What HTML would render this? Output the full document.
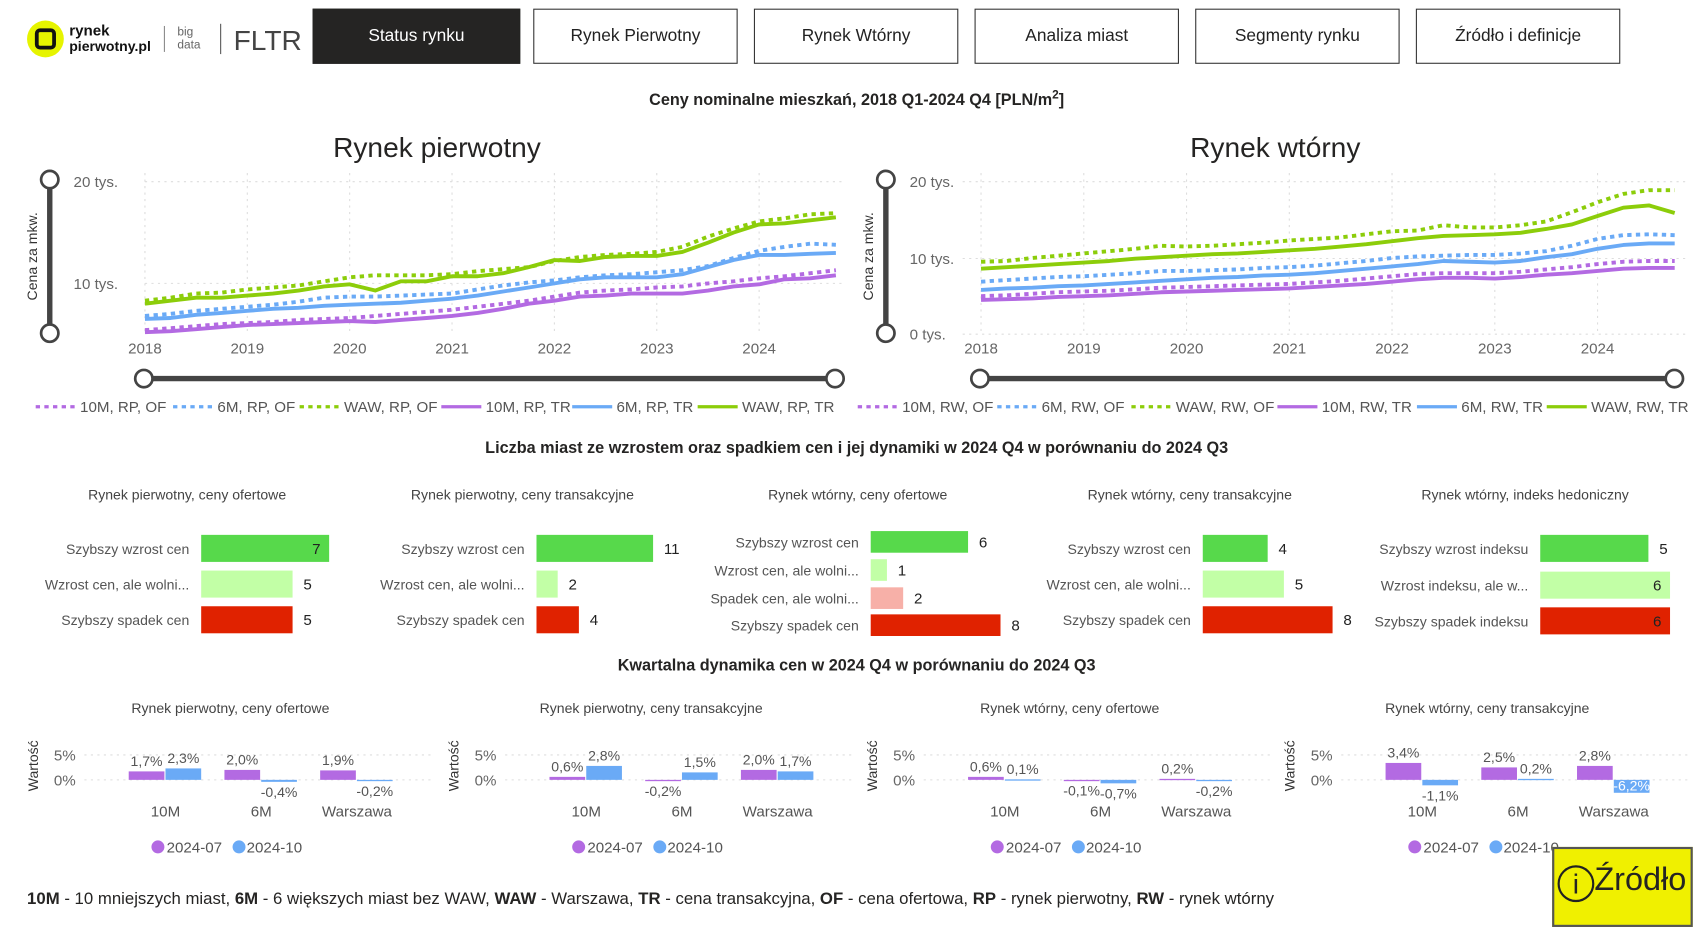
<!DOCTYPE html>
<html><head><meta charset="utf-8">
<style>
html,body{margin:0;padding:0;background:#fff;width:1696px;height:930px;overflow:hidden}
#c{position:absolute;left:0;top:0;width:1568px;height:860px;transform:scale(1.08163);transform-origin:0 0;font-family:"Liberation Sans",sans-serif;color:#252423}
.t{position:absolute;white-space:nowrap}
.btn{position:absolute;top:8px;width:189px;height:51px;border:1.5px solid #333;box-sizing:border-box;display:flex;align-items:center;justify-content:center;font-size:16px;color:#222;background:#fff}
</style></head><body>
<div id="c">
<svg id="s" width="1568" height="860" style="position:absolute;left:0;top:0" font-family="Liberation Sans, sans-serif"></svg>
<div class="btn" style="left:289px;width:192px;background:#252423;color:#fff;border-color:#252423">Status rynku</div>
<div class="btn" style="left:493px">Rynek Pierwotny</div>
<div class="btn" style="left:697px">Rynek Wtórny</div>
<div class="btn" style="left:901px">Analiza miast</div>
<div class="btn" style="left:1105px">Segmenty rynku</div>
<div class="btn" style="left:1309px">Źródło i definicje</div>
<div class="t" style="left:0;width:1584px;text-align:center;top:82px;font-size:15px;font-weight:bold">Ceny nominalne mieszkań, 2018 Q1-2024 Q4 [PLN/m<sup style="font-size:11px">2</sup>]</div>
<div class="t" style="left:0;width:1584px;text-align:center;top:406px;font-size:15px;font-weight:bold">Liczba miast ze wzrostem oraz spadkiem cen i jej dynamiki w 2024 Q4 w porównaniu do 2024 Q3</div>
<div class="t" style="left:0;width:1584px;text-align:center;top:607px;font-size:15px;font-weight:bold">Kwartalna dynamika cen w 2024 Q4 w porównaniu do 2024 Q3</div>
<div class="t" style="left:25px;top:823px;font-size:15.5px"><b>10M</b> - 10 mniejszych miast, <b>6M</b> - 6 większych miast bez WAW, <b>WAW</b> - Warszawa, <b>TR</b> - cena transakcyjna, <b>OF</b> - cena ofertowa, <b>RP</b> - rynek pierwotny, <b>RW</b> - rynek wtórny</div>
<div class="t" style="left:1435px;top:783px;width:130px;height:74px;background:#f0f000;border:2px solid #555;box-sizing:border-box"></div>
<div class="t" style="left:1440px;top:800px;width:30px;height:30px;border:2.5px solid #222;border-radius:50%;font-size:26px;text-align:center;line-height:30px">i</div>
<div class="t" style="left:1474px;top:797px;font-size:30px">Źródło</div>
</div>
<script>
const s=document.getElementById('s');let h='';
function tx(x,y,t,o){o=o||{};h+=`<text x="${x}" y="${y}" font-size="${o.fs||13}" fill="${o.c||'#555'}" text-anchor="${o.a||'start'}" ${o.w?'font-weight="bold"':''} ${o.tr?`transform="${o.tr}"`:''}>${t}</text>`;}
h+=`<circle cx="42" cy="36" r="17" fill="#e6f400"/><rect x="34" y="28" width="16" height="16" rx="3" fill="none" stroke="#111" stroke-width="3.5"/>`;
tx(64,33,'rynek',{fs:14,c:'#111',w:1});tx(64,47,'pierwotny.pl',{fs:13,c:'#111',w:1});
h+=`<line x1="152" y1="24" x2="152" y2="48" stroke="#888"/><line x1="204" y1="22" x2="204" y2="50" stroke="#555"/>`;
tx(164,33,'big',{fs:11,c:'#666'});tx(164,45,'data',{fs:11,c:'#666'});tx(216,46,'FLTR',{fs:26,c:'#444'});
const P='#b36ae2',B='#6aaaf6',G='#8ccd0a';
function chart(o){
 tx(o.tc,145,o.title,{fs:26,c:'#252423',a:'middle'});
 for(const g of o.grid){h+=`<line x1="${o.x0}" y1="${g[0]}" x2="${o.x1}" y2="${g[0]}" stroke="#ddd" stroke-dasharray="2,4"/>`;tx(o.lx,g[0]+5,g[1],{fs:14,c:'#666'});}
 for(let i=0;i<7;i++){const x=o.xs+i*o.dx*4;h+=`<line x1="${x}" y1="160" x2="${x}" y2="308" stroke="#ddd" stroke-dasharray="2,4"/>`;tx(x,327,2018+i,{fs:14,c:'#666',a:'middle'});}
 const ser=[[o.d[0],P,1],[o.d[1],B,1],[o.d[2],G,1],[o.d[3],P,0],[o.d[4],B,0],[o.d[5],G,0]];
 for(const [d,c,dash] of ser){const pts=d.map((v,i)=>`${(o.xs+i*o.dx).toFixed(1)},${(o.y0-o.k*v).toFixed(1)}`).join(' ');
  h+=`<polyline points="${pts}" fill="none" stroke="${c}" stroke-width="3.6" ${dash?'stroke-dasharray="4,4"':''} stroke-linejoin="round"/>`;}
 h+=`<line x1="${o.vs}" y1="166" x2="${o.vs}" y2="308" stroke="#444" stroke-width="5"/><circle cx="${o.vs}" cy="166" r="8" fill="#fff" stroke="#444" stroke-width="2.5"/><circle cx="${o.vs}" cy="308" r="8" fill="#fff" stroke="#444" stroke-width="2.5"/>`;
 h+=`<line x1="${o.hs[0]}" y1="350" x2="${o.hs[1]}" y2="350" stroke="#444" stroke-width="5"/><circle cx="${o.hs[0]}" cy="350" r="8" fill="#fff" stroke="#444" stroke-width="2.5"/><circle cx="${o.hs[1]}" cy="350" r="8" fill="#fff" stroke="#444" stroke-width="2.5"/>`;
 tx(0,0,'Cena za mkw.',{fs:13,c:'#333',a:'middle',tr:`translate(${o.vs-12},237) rotate(-90)`});
 const cols=[P,B,G,P,B,G];
 o.leg.forEach((L,i)=>{const x=L[0];h+=`<line x1="${x}" y1="376" x2="${x+37}" y2="376" stroke="${cols[i]}" stroke-width="3" ${i<3?'stroke-dasharray="4,4"':''}/>`;tx(x+41,381,L[1],{fs:14,c:'#555'});});
}
chart({tc:404,title:'Rynek pierwotny',x0:134,x1:780,lx:68,grid:[[168,'20 tys.'],[262,'10 tys.']],xs:134,dx:23.66,y0:356,k:9.4,vs:46,hs:[133,772],
 leg:[[33,'10M, RP, OF'],[160,'6M, RP, OF'],[277,'WAW, RP, OF'],[408,'10M, RP, TR'],[529,'6M, RP, TR'],[645,'WAW, RP, TR']],
 d:[[5.4,5.6,5.8,6.0,6.1,6.2,6.4,6.5,6.6,6.8,7.0,7.2,7.4,7.7,8.0,8.3,8.7,9.1,9.3,9.4,9.6,9.7,10.0,10.2,10.5,10.7,11.0,11.3],
 [6.8,7.0,7.3,7.5,7.7,7.9,8.2,8.6,8.7,8.7,8.8,8.9,9.0,9.4,9.8,10.1,10.3,10.6,10.8,10.9,11.1,11.3,11.7,12.5,13.2,13.6,13.9,13.8],
 [8.3,8.6,9.0,9.1,9.4,9.6,9.8,10.2,10.6,10.8,10.8,10.8,10.9,11.2,11.4,11.6,12.2,12.6,12.8,12.9,13.1,13.6,14.6,15.4,16.1,16.4,16.8,16.9],
 [5.2,5.3,5.5,5.7,5.9,6.0,6.1,6.2,6.3,6.2,6.4,6.6,6.8,7.1,7.5,8.0,8.3,8.7,8.8,9.0,9.0,9.0,9.3,9.7,9.9,10.4,10.5,10.8],
 [6.5,6.6,6.9,7.1,7.3,7.5,7.6,7.8,7.9,8.0,8.1,8.3,8.5,8.8,9.2,9.6,10.0,10.4,10.6,10.6,10.6,10.9,11.6,12.3,12.8,12.8,12.9,13.0],
 [8.0,8.3,8.6,8.6,8.8,9.0,9.3,9.7,9.9,9.3,10.2,10.2,10.7,10.7,11.0,11.6,12.3,12.2,12.6,12.7,12.7,13.1,14.0,15.0,15.8,15.9,16.2,16.5]]});
chart({tc:1179,title:'Rynek wtórny',x0:890,x1:1560,lx:841,grid:[[168,'20 tys.'],[239,'10 tys.'],[309,'0 tys.']],xs:907,dx:23.75,y0:309,k:7.05,vs:819,hs:[906,1548],
 leg:[[793,'10M, RW, OF'],[922,'6M, RW, OF'],[1046,'WAW, RW, OF'],[1181,'10M, RW, TR'],[1310,'6M, RW, TR'],[1430,'WAW, RW, TR']],
 d:[[5.0,5.1,5.3,5.5,5.6,5.7,5.9,6.1,6.2,6.3,6.4,6.5,6.6,6.8,7.0,7.3,7.6,7.9,8.0,8.0,8.0,8.2,8.5,8.8,9.2,9.5,9.6,9.6],
 [6.9,7.1,7.3,7.5,7.6,7.8,8.0,8.3,8.3,8.4,8.5,8.7,8.8,9.0,9.3,9.6,10.0,10.2,10.3,10.4,10.4,10.6,10.9,11.6,12.5,13.0,13.1,13.0],
 [9.5,9.6,10.0,10.3,10.6,10.9,11.2,11.6,11.5,11.6,11.8,12.0,12.3,12.5,12.7,13.1,13.5,13.6,14.3,14.0,14.0,14.3,14.8,16.0,17.3,18.4,18.9,18.9],
 [4.5,4.6,4.7,4.9,5.0,5.1,5.3,5.5,5.6,5.7,5.8,5.9,6.0,6.2,6.4,6.6,6.9,7.2,7.4,7.4,7.3,7.5,7.8,8.0,8.3,8.6,8.7,8.7],
 [5.8,6.0,6.1,6.3,6.4,6.6,6.8,7.0,7.2,7.4,7.5,7.7,7.8,8.0,8.3,8.6,8.9,9.2,9.6,9.5,9.4,9.6,10.1,10.5,11.2,11.7,11.9,11.9],
 [8.6,8.8,9.0,9.2,9.4,9.6,9.9,10.1,10.3,10.5,10.6,10.8,11.0,11.2,11.5,11.8,12.2,12.6,12.9,13.0,13.1,13.3,13.8,14.4,15.5,16.6,16.9,15.9]]});
const cG='#57d94b',cL='#c2ffa6',cR='#e02200',cP='#f7b0a8';
function bars(o){tx(o.c,462,o.t,{fs:13,c:'#444',a:'middle'});
 o.r.forEach(r=>{const [y,lab,v,col,ins]=r,w=v*o.u,hh=o.bh;
  tx(o.lx,y+5,lab,{fs:13,c:'#555',a:'end'});h+=`<rect x="${o.lx+11}" y="${y-hh/2}" width="${w}" height="${hh}" fill="${col}"/>`;
  if(ins)tx(o.lx+11+w-8,y+5,v,{fs:14,c:'#222',a:'end'});else tx(o.lx+11+w+10,y+5,v,{fs:14,c:'#222'});});}
bars({c:173,t:'Rynek pierwotny, ceny ofertowe',lx:175,u:16.9,bh:25,r:[[507,'Szybszy wzrost cen',7,cG,1],[540,'Wzrost cen, ale wolni...',5,cL],[573,'Szybszy spadek cen',5,cR]]});
bars({c:483,t:'Rynek pierwotny, ceny transakcyjne',lx:485,u:9.8,bh:25,r:[[507,'Szybszy wzrost cen',11,cG],[540,'Wzrost cen, ale wolni...',2,cL],[573,'Szybszy spadek cen',4,cR]]});
bars({c:793,t:'Rynek wtórny, ceny ofertowe',lx:794,u:15,bh:20,r:[[501,'Szybszy wzrost cen',6,cG],[527,'Wzrost cen, ale wolni...',1,cL],[553,'Spadek cen, ale wolni...',2,cP],[578,'Szybszy spadek cen',8,cR]]});
bars({c:1100,t:'Rynek wtórny, ceny transakcyjne',lx:1101,u:15,bh:25,r:[[507,'Szybszy wzrost cen',4,cG],[540,'Wzrost cen, ale wolni...',5,cL],[573,'Szybszy spadek cen',8,cR]]});
bars({c:1410,t:'Rynek wtórny, indeks hedoniczny',lx:1413,u:20,bh:25,r:[[507,'Szybszy wzrost indeksu',5,cG],[541,'Wzrost indeksu, ale w...',6,cL,1],[574,'Szybszy spadek indeksu',6,cR,1]]});
const Q=[[0,'Rynek pierwotny, ceny ofertowe',[[1.7,2.3],[2.0,-0.4],[1.9,-0.2]]],
[389,'Rynek pierwotny, ceny transakcyjne',[[0.6,2.8],[-0.2,1.5],[2.0,1.7]]],
[776,'Rynek wtórny, ceny ofertowe',[[0.6,0.1],[-0.1,-0.7],[0.2,-0.2]]],
[1162,'Rynek wtórny, ceny transakcyjne',[[3.4,-1.1],[2.5,0.2],[2.8,-6.2]]]];
const QP='#b36ae2',QB='#6aaaf6',k=4.6,z=721;
const f=v=>v.toFixed(1).replace('.',',')+'%';
Q.forEach(([ox,t,d])=>{tx(213+ox,659,t,{fs:13,c:'#444',a:'middle'});
 tx(0,0,'Wartość',{fs:13,c:'#333',a:'middle',tr:`translate(${35+ox},708) rotate(-90)`});
 tx(70+ox,703,'5%',{fs:14,c:'#666',a:'end'});tx(70+ox,726,'0%',{fs:14,c:'#666',a:'end'});
 h+=`<line x1="${78+ox}" y1="698" x2="${398+ox}" y2="698" stroke="#ddd" stroke-dasharray="2,4"/><line x1="${78+ox}" y1="${z}" x2="${398+ox}" y2="${z}" stroke="#ddd" stroke-dasharray="2,4"/>`;
 ['10M','6M','Warszawa'].forEach((n,i)=>{const cx=153+ox+i*88.5;tx(cx,755,n,{fs:14,c:'#555',a:'middle'});
  d[i].forEach((v,j)=>{const x=cx-34+j*34,vv=Math.max(v,-2.6),hh=Math.abs(vv)*k;
   h+=`<rect x="${x}" y="${vv>=0?z-hh:z}" width="33" height="${Math.max(hh,1.2)}" fill="${j?QB:QP}"/>`;
   const lx=x+16.5;
   if(v<-3)tx(lx,z+hh-2,f(v),{fs:13,c:'#fff',a:'middle'});
   else if(v>=0)tx(lx,z-hh-5,f(v),{fs:13,c:'#555',a:'middle'});
   else tx(lx,z+hh+14,f(v),{fs:13,c:'#555',a:'middle'});});});
 h+=`<circle cx="${146+ox}" cy="783" r="6" fill="${QP}"/><circle cx="${221+ox}" cy="783" r="6" fill="${QB}"/>`;
 tx(154+ox,788,'2024-07',{fs:14,c:'#555'});tx(228+ox,788,'2024-10',{fs:14,c:'#555'});});
s.innerHTML=h;
</script>
</body></html>
